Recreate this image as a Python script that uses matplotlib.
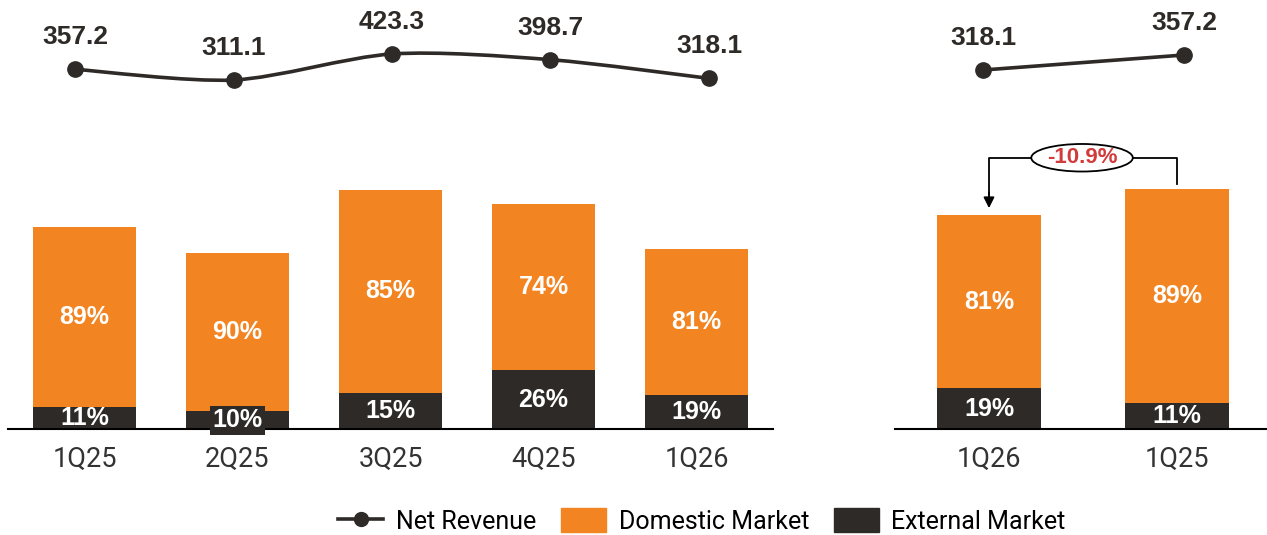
import numpy as np
import matplotlib.pyplot as plt
from matplotlib.path import Path
from matplotlib.patches import PathPatch, Patch, Ellipse
from matplotlib.lines import Line2D

# quarterly series (left panel)
quarters = ["1Q25", "2Q25", "3Q25", "4Q25", "1Q26"]
net_revenue = [357.2, 311.1, 423.3, 398.7, 318.1]
domestic_pct = [89, 90, 85, 74, 81]
external_pct = [11, 10, 15, 26, 19]

# year-on-year comparison (right panel)
cmp_quarters = ["1Q26", "1Q25"]
cmp_revenue = [318.1, 357.2]
cmp_domestic_pct = [81, 89]
cmp_external_pct = [19, 11]
cmp_change = "-10.9%"

ORANGE = "#F28522"
DARK = "#2E2A27"
RED = "#D13B3B"
NUM_FONT = "Liberation Sans"
TXT_FONT = "Roboto"

W, H = 1267, 535
fig = plt.figure(figsize=(W / 100, H / 100), dpi=100)


def px_axes(x0, x1, ytop, ybot):
    # axes placed by pixel box (y measured from top)
    return fig.add_axes([x0 / W, (H - ybot) / H, (x1 - x0) / W, (ybot - ytop) / H])


def smooth_line(ax, xs, ys):
    pts = np.column_stack([xs, ys]).astype(float)
    p = np.vstack([pts[0], pts, pts[-1]])
    verts = [pts[0]]
    codes = [Path.MOVETO]
    for i in range(1, len(p) - 2):
        c1 = p[i] + (p[i + 1] - p[i - 1]) / 7
        c2 = p[i + 1] - (p[i + 2] - p[i]) / 7
        verts += [c1, c2, p[i + 1]]
        codes += [Path.CURVE4] * 3
    ax.add_patch(PathPatch(Path(verts, codes), fill=False, lw=2.6,
                           ec=DARK, capstyle="round"))


def bar_panel(ax, labels, totals, dom, ext, width):
    x = np.arange(len(labels))
    ext_h = np.array(totals) * np.array(ext) / 100
    dom_h = np.array(totals) * np.array(dom) / 100
    ax.bar(x, ext_h, width, color=DARK, zorder=2)
    ax.bar(x, dom_h, width, bottom=ext_h, color=ORANGE, zorder=2)
    for i in x:
        ax.text(i, ext_h[i] + dom_h[i] / 2, f"{dom[i]}%", ha="center", va="center",
                color="white", fontsize=18, fontweight="bold", family=NUM_FONT)
        box = None
        if ext[i] <= 10:
            box = dict(boxstyle="square,pad=0.1", fc=DARK, ec="none")
        ax.text(i, ext_h[i] / 2, f"{ext[i]}%", ha="center", va="center",
                color="white", fontsize=18, fontweight="bold", family=NUM_FONT,
                bbox=box, zorder=3, clip_on=False)
    ax.set_xticks(x)
    ax.set_xticklabels(labels, fontsize=19.5, family=TXT_FONT, color="#333333")
    ax.tick_params(axis="x", length=0, pad=12)
    ax.set_yticks([])
    for s in ["top", "right", "left"]:
        ax.spines[s].set_visible(False)
    ax.spines["bottom"].set_linewidth(1.5)
    ax.spines["bottom"].set_color("black")
    ax.patch.set_alpha(0)


def line_panel(ax, totals, smooth):
    x = np.arange(len(totals))
    if smooth:
        smooth_line(ax, x, totals)
    else:
        ax.plot(x, totals, color=DARK, lw=2.6)
    ax.plot(x, totals, "o", color=DARK, ms=11, zorder=3)
    for i, v in zip(x, totals):
        ax.annotate(f"{v:.1f}", (i, v), xytext=(0, 23), textcoords="offset points",
                    ha="center", va="center", fontsize=19, fontweight="bold",
                    family=NUM_FONT, color=DARK)
    ax.axis("off")


# left panel
axL = px_axes(8, 773, 130, 429)
axL.set_xlim(-0.5, 4.5)
axL.set_ylim(0, 299 / 0.5655)
bar_panel(axL, quarters, net_revenue, domestic_pct, external_pct, 0.667)

lineL = px_axes(8, 773, 0, 130)
line_panel(lineL, net_revenue, True)
lineL.set_xlim(-0.423, 4.404)
lineL.set_ylim(95.6, 655.9)

# right panel
axR = px_axes(895, 1267, 130, 429)
axR.set_xlim(-0.5, 1.479)
axR.set_ylim(0, 299 / 0.672)
bar_panel(axR, cmp_quarters, cmp_revenue, cmp_domestic_pct, cmp_external_pct, 0.553)

lineR = px_axes(895, 1267, 0, 130)
line_panel(lineR, cmp_revenue, False)
lineR.set_xlim(-0.438, 1.413)
lineR.set_ylim(161.7, 500.6)

# change bracket between the two comparison bars
top = max(cmp_revenue)
yb = top * 1.13
ex_l, ex_r = 0.225, 0.765
axR.plot([1, 1, ex_r], [top * 1.02, yb, yb], color="black", lw=1.3, clip_on=False)
axR.plot([ex_l, 0, 0], [yb, yb, cmp_revenue[0] * 1.05], color="black", lw=1.3,
         clip_on=False)
axR.annotate("", xy=(0, cmp_revenue[0] * 1.02), xytext=(0, cmp_revenue[0] * 1.12),
             arrowprops=dict(arrowstyle="-|>", color="black", lw=1.3,
                             mutation_scale=16), annotation_clip=False)
axR.add_patch(Ellipse(((ex_l + ex_r) / 2, yb), ex_r - ex_l, 41, fc="white",
                      ec="black", lw=1.3, clip_on=False, zorder=4))
axR.text((ex_l + ex_r) / 2, yb, cmp_change, ha="center", va="center", color=RED,
         fontsize=16, fontweight="bold", family=NUM_FONT, zorder=5)

# legend
handles = [
    Line2D([], [], color=DARK, lw=2.6, marker="o", ms=10),
    Patch(color=ORANGE),
    Patch(color=DARK),
]
fig.legend(handles, ["Net Revenue", "Domestic Market", "External Market"],
           loc="center", bbox_to_anchor=(702 / W, 14 / H), ncol=3, frameon=False,
           prop=dict(family=TXT_FONT, size=18), handlelength=1.8, handleheight=1.05,
           columnspacing=1.0, handletextpad=0.5)

fig.savefig("out.png", dpi=100)
